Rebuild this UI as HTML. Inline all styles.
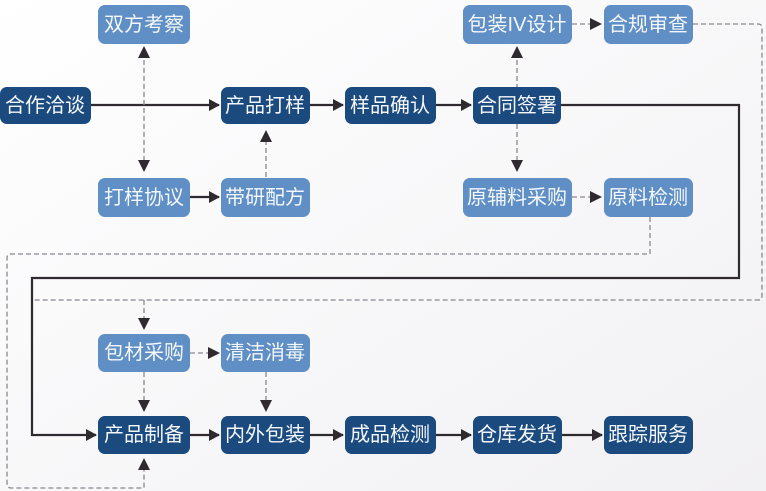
<!DOCTYPE html>
<html><head><meta charset="utf-8"><style>
html,body{margin:0;padding:0;background:#fff}
svg{display:block}
text{font-family:"Liberation Sans","Noto Sans CJK SC",sans-serif;font-size:20px;fill:#f4f7fb;text-anchor:middle;dominant-baseline:central}
</style></head><body>
<svg width="766" height="491" viewBox="0 0 766 491" xmlns="http://www.w3.org/2000/svg">
<defs>
<marker id="a" markerWidth="12" markerHeight="12" refX="10" refY="6" orient="auto" markerUnits="userSpaceOnUse"><path d="M0,0 L11,6 L0,12 Z" fill="#2e2a30"/></marker>
<linearGradient id="bg" x1="0" y1="0" x2="1" y2="1"><stop offset="0" stop-color="#ffffff"/><stop offset="1" stop-color="#f1f0f3"/></linearGradient>
</defs>
<rect width="766" height="491" fill="url(#bg)"/>
<g fill="none" stroke="#2e2a30" stroke-width="2.2">
<path d="M91,105 H219" marker-end="url(#a)"/>
<path d="M310,105 H343" marker-end="url(#a)"/>
<path d="M436,105 H471" marker-end="url(#a)"/>
<path d="M561,105 H739 V278 H32 V435 H96" marker-end="url(#a)"/>
<path d="M190,197 H219" marker-end="url(#a)"/>
<path d="M190,435 H219" marker-end="url(#a)"/>
<path d="M310,435 H343" marker-end="url(#a)"/>
<path d="M436,435 H471" marker-end="url(#a)"/>
<path d="M562,435 H602" marker-end="url(#a)"/>
</g>
<g fill="none" stroke="#8a8790" stroke-width="1.3" stroke-dasharray="5,3">
<path d="M144,60 V160"/>
<path d="M266,140 V178"/>
<path d="M517,60 V160"/>
<path d="M572,24 H592"/>
<path d="M572,197 H592"/>
<path d="M693,24 H758 Q762,24 762,28 V296 Q762,300 758,300 H32"/>
<path d="M144,300 V318"/>
<path d="M650,217 V254 H11 Q7,254 7,258 V484 Q7,488 11,488 H144 V470"/>
<path d="M190,353 H210"/>
<path d="M144,372 V400"/>
<path d="M266,372 V400"/>
</g>
<g fill="#2e2a30">
<path d="M138,58 L150,58 L144,46 Z"/>
<path d="M138,160 L150,160 L144,172 Z"/>
<path d="M260,142 L272,142 L266,130 Z"/>
<path d="M511,58 L523,58 L517,46 Z"/>
<path d="M511,160 L523,160 L517,172 Z"/>
<path d="M590,18 L602,24 L590,30 Z"/>
<path d="M590,191 L602,197 L590,203 Z"/>
<path d="M138,318 L150,318 L144,330 Z"/>
<path d="M208,347 L220,353 L208,359 Z"/>
<path d="M138,400 L150,400 L144,412 Z"/>
<path d="M260,400 L272,400 L266,412 Z"/>
<path d="M138,470 L150,470 L144,458 Z"/>
</g>
<g fill="#5f8fc4">
<rect x="98" y="5" width="92" height="39" rx="7"/>
<rect x="98" y="178" width="92" height="39" rx="7"/>
<rect x="221" y="178" width="89" height="39" rx="7"/>
<rect x="463" y="5" width="109" height="39" rx="7"/>
<rect x="604" y="5" width="89" height="39" rx="7"/>
<rect x="463" y="178" width="109" height="39" rx="7"/>
<rect x="604" y="178" width="89" height="39" rx="7"/>
<rect x="98" y="334" width="92" height="38" rx="7"/>
<rect x="221" y="334" width="89" height="38" rx="7"/>
</g>
<g fill="#1b4a7f">
<rect x="0" y="87" width="91" height="37" rx="7"/>
<rect x="221" y="87" width="89" height="37" rx="7"/>
<rect x="345" y="87" width="91" height="37" rx="7"/>
<rect x="473" y="87" width="88" height="37" rx="7"/>
<rect x="98" y="416" width="92" height="38" rx="7"/>
<rect x="221" y="416" width="89" height="38" rx="7"/>
<rect x="345" y="416" width="91" height="38" rx="7"/>
<rect x="473" y="416" width="89" height="38" rx="7"/>
<rect x="604" y="416" width="89" height="38" rx="7"/>
</g>
<text x="144" y="25">双方考察</text>
<text x="144" y="198">打样协议</text>
<text x="265" y="198">带研配方</text>
<text x="517" y="25">包装IV设计</text>
<text x="648" y="25">合规审查</text>
<text x="517" y="198">原辅料采购</text>
<text x="648" y="198">原料检测</text>
<text x="144" y="353">包材采购</text>
<text x="265" y="353">清洁消毒</text>
<text x="45" y="106">合作洽谈</text>
<text x="265" y="106">产品打样</text>
<text x="390" y="106">样品确认</text>
<text x="517" y="106">合同签署</text>
<text x="144" y="435">产品制备</text>
<text x="265" y="435">内外包装</text>
<text x="390" y="435">成品检测</text>
<text x="517" y="435">仓库发货</text>
<text x="648" y="435">跟踪服务</text>
</svg>
</body></html>
